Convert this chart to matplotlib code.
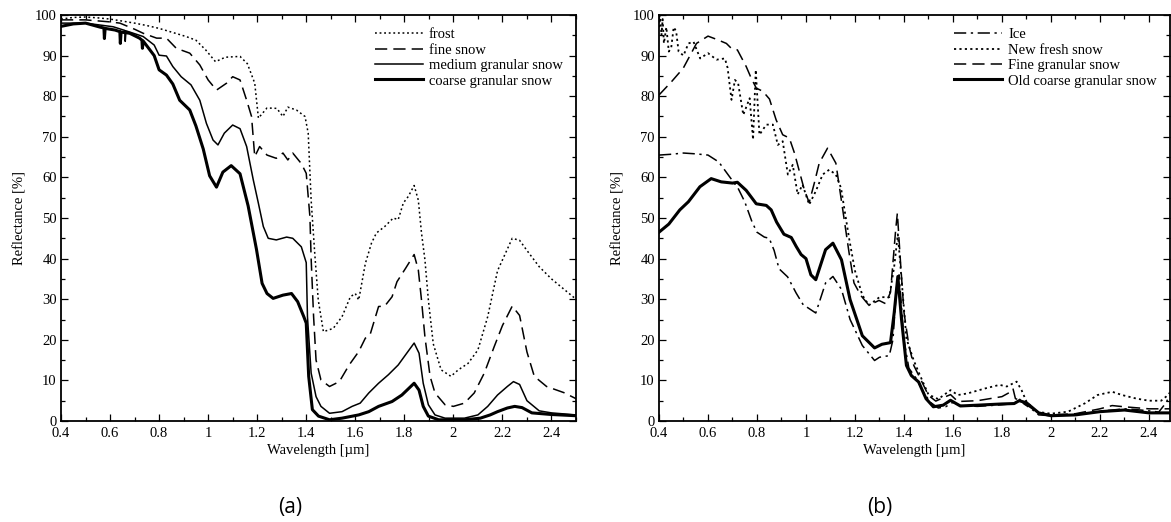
import matplotlib
matplotlib.use("Agg")
import matplotlib.pyplot as plt
from matplotlib.ticker import MultipleLocator

# ---------------- data: panel (a) ----------------
frost_x = [0.40, 0.45, 0.50, 0.55, 0.60, 0.65, 0.70, 0.75, 0.80, 0.85, 0.91, 0.95, 0.99, 1.03, 1.07, 1.13, 1.16,
           1.19, 1.205, 1.24, 1.28, 1.305, 1.325, 1.36, 1.395, 1.408, 1.42, 1.435, 1.449, 1.47, 1.51, 1.546, 1.58,
           1.60, 1.614, 1.641, 1.666, 1.686, 1.72, 1.755, 1.775, 1.796, 1.816, 1.84, 1.857, 1.87, 1.884, 1.898,
           1.918, 1.95, 1.99, 2.02, 2.06, 2.10, 2.14, 2.18, 2.21, 2.24, 2.27, 2.30, 2.35, 2.40, 2.45, 2.50]
frost_y = [99.0, 99.4, 99.5, 99.3, 99.0, 98.5, 98.0, 97.4, 96.7, 95.8, 94.7, 93.8, 91.4, 88.5, 89.6, 89.8, 88.0,
           83.2, 74.6, 77.1, 77.0, 75.0, 77.3, 76.6, 75.0, 70.9, 54.4, 41.0, 29.8, 22.0, 22.8, 25.7, 30.6,
           31.4, 29.8, 38.8, 43.8, 46.3, 47.9, 50.0, 49.6, 53.7, 55.3, 58.0, 54.4, 46.3, 39.7, 29.8,
           19.0, 12.6, 11.0, 12.6, 14.2, 17.5, 25.7, 37.0, 41.0, 45.0, 44.5, 42.0, 38.0, 35.0, 32.5, 30.0]

fine_x = [0.40, 0.50, 0.60, 0.64, 0.70, 0.735, 0.79, 0.83, 0.87, 0.925, 0.966, 1.00, 1.034, 1.075, 1.10, 1.13,
          1.157, 1.177, 1.19, 1.21, 1.24, 1.278, 1.305, 1.325, 1.345, 1.38, 1.40, 1.415, 1.42, 1.43, 1.44, 1.46,
          1.495, 1.535, 1.575, 1.614, 1.641, 1.66, 1.695, 1.72, 1.75, 1.77, 1.805, 1.84, 1.857, 1.87, 1.884,
          1.905, 1.925, 1.966, 2.00, 2.045, 2.085, 2.126, 2.167, 2.20, 2.24, 2.27, 2.30, 2.33, 2.38, 2.45, 2.50]
fine_y = [98.8, 98.8, 98.3, 98.0, 96.5, 95.5, 94.3, 94.3, 91.8, 90.6, 87.7, 84.0, 81.5, 83.2, 84.8, 84.0,
          79.0, 75.0, 65.1, 67.6, 65.5, 64.7, 66.0, 64.3, 66.0, 63.4, 61.0, 50.3, 40.0, 25.7, 15.0, 10.1,
          8.5, 9.7, 13.8, 17.1, 20.4, 21.2, 28.2, 28.3, 30.6, 34.3, 37.6, 41.0, 37.2, 29.8, 20.7,
          11.0, 6.9, 4.0, 3.6, 4.4, 6.9, 11.8, 18.4, 23.5, 28.3, 26.0, 17.0, 11.0, 8.5, 7.0, 5.5]

medium_x = [0.40, 0.50, 0.55, 0.613, 0.66, 0.662, 0.665, 0.695, 0.735, 0.78, 0.80, 0.83, 0.856, 0.89, 0.93,
            0.966, 0.993, 1.02, 1.04, 1.066, 1.10, 1.13, 1.157, 1.184, 1.205, 1.225, 1.245, 1.278, 1.32, 1.345,
            1.38, 1.40, 1.405, 1.42, 1.44, 1.46, 1.495, 1.546, 1.587, 1.62, 1.655, 1.695, 1.735, 1.775, 1.805,
            1.84, 1.86, 1.877, 1.898, 1.925, 1.966, 2.045, 2.10, 2.14, 2.18, 2.22, 2.245, 2.27, 2.30, 2.35,
            2.40, 2.50]
medium_y = [98.0, 98.0, 97.6, 97.1, 96.2, 93.5, 96.1, 95.5, 94.7, 92.6, 90.1, 89.9, 87.3, 84.8, 82.8,
            79.0, 73.3, 69.2, 68.0, 70.9, 72.9, 72.0, 67.6, 59.4, 53.6, 47.9, 45.0, 44.6, 45.3, 45.0,
            42.9, 39.0, 25.7, 11.8, 6.0, 3.6, 1.9, 2.3, 3.6, 4.4, 6.9, 9.3, 11.4, 13.8, 16.3,
            19.2, 16.7, 9.3, 4.0, 1.5, 0.7, 0.7, 1.5, 3.6, 6.4, 8.5, 9.7, 9.0, 5.0, 2.5,
            2.0, 1.5]

coarse_x = [0.40, 0.45, 0.50, 0.56, 0.575, 0.577, 0.58, 0.62, 0.64, 0.642, 0.645, 0.68, 0.72, 0.73, 0.732, 0.735,
            0.78, 0.80, 0.83, 0.856, 0.884, 0.925, 0.95, 0.98, 1.006, 1.034, 1.06, 1.094, 1.13, 1.163, 1.197,
            1.22, 1.24, 1.265, 1.305, 1.34, 1.365, 1.39, 1.40, 1.41, 1.425, 1.45, 1.495, 1.546, 1.614, 1.655,
            1.695, 1.75, 1.79, 1.84, 1.86, 1.877, 1.898, 1.94, 2.045, 2.11, 2.15, 2.18, 2.22, 2.25, 2.28, 2.32,
            2.40, 2.50]
coarse_y = [97.2, 97.8, 98.0, 97.0, 96.8, 94.2, 96.7, 96.3, 95.9, 93.0, 95.8, 95.5, 94.3, 93.8, 91.8, 93.6,
            90.0, 86.5, 85.2, 83.0, 79.0, 76.6, 72.7, 67.0, 60.4, 57.6, 61.3, 62.9, 60.9, 53.0, 42.3,
            33.9, 31.4, 30.2, 31.0, 31.4, 29.4, 25.7, 24.1, 11.0, 2.8, 1.2, 0.3, 0.7, 1.5, 2.3,
            3.6, 4.8, 6.4, 9.3, 7.6, 3.6, 1.2, 0.3, 0.3, 0.7, 1.5, 2.3, 3.2, 3.6, 3.3, 2.0,
            1.6, 1.3]

# ---------------- data: panel (b) ----------------
ice_x = [0.40, 0.45, 0.50, 0.55, 0.60, 0.644, 0.684, 0.723, 0.75, 0.78, 0.80, 0.83, 0.85, 0.87, 0.89, 0.925,
         0.96, 0.99, 1.00, 1.04, 1.08, 1.11, 1.145, 1.18, 1.23, 1.28, 1.30, 1.34, 1.355, 1.37, 1.38, 1.39, 1.40,
         1.42, 1.45, 1.48, 1.51, 1.54, 1.57, 1.60, 1.63, 1.70, 1.80, 1.85, 1.87, 1.89, 1.92, 1.95, 2.00, 2.10,
         2.20, 2.30, 2.35, 2.40, 2.44, 2.47, 2.486]
ice_y = [65.5, 65.7, 66.0, 65.8, 65.5, 63.8, 60.5, 57.3, 54.0, 49.0, 46.5, 45.3, 45.0, 42.0, 37.5, 35.5,
         31.5, 28.5, 28.2, 26.6, 34.0, 35.6, 32.4, 25.0, 18.6, 14.9, 15.7, 16.1, 20.0, 33.0, 36.0, 28.0, 20.0,
         13.0, 10.5, 7.0, 4.5, 3.2, 3.5, 4.6, 3.8, 3.6, 4.0, 4.3, 5.5, 4.2, 3.0, 1.5, 1.3, 1.5,
         2.4, 3.0, 2.8, 2.5, 2.2, 4.5, 6.5]

fresh_x = [0.40, 0.405, 0.41, 0.415, 0.42, 0.43, 0.44, 0.45, 0.46, 0.47, 0.48, 0.50, 0.52, 0.541, 0.568, 0.60,
           0.635, 0.669, 0.68, 0.696, 0.71, 0.723, 0.744, 0.77, 0.784, 0.795, 0.81, 0.838, 0.865, 0.885, 0.905,
           0.926, 0.946, 0.966, 0.986, 1.013, 1.04, 1.068, 1.095, 1.122, 1.143, 1.176, 1.20, 1.23, 1.257, 1.30,
           1.34, 1.36, 1.375, 1.39, 1.41, 1.44, 1.46, 1.50, 1.54, 1.59, 1.62, 1.66, 1.73, 1.79, 1.82, 1.86,
           1.88, 1.90, 1.94, 2.00, 2.07, 2.14, 2.19, 2.25, 2.29, 2.35, 2.40, 2.45, 2.47, 2.486]
fresh_y = [97.0, 100.0, 95.0, 99.0, 93.0, 97.0, 91.0, 92.0, 97.0, 96.0, 91.0, 90.0, 93.0, 93.4, 89.3, 90.6,
           89.0, 89.3, 87.0, 79.1, 84.0, 83.2, 75.4, 79.5, 69.3, 86.5, 70.5, 73.0, 73.0, 68.0, 68.9,
           60.7, 63.1, 55.8, 58.2, 53.3, 56.6, 60.7, 61.9, 60.7, 57.4, 45.0, 37.0, 31.0, 28.5, 30.5,
           30.5, 38.0, 46.0, 35.0, 20.3, 14.9, 12.0, 6.5, 5.4, 7.6, 6.4, 6.8, 8.0, 8.9, 8.5, 9.7,
           7.6, 4.8, 2.3, 1.8, 2.3, 4.4, 6.4, 7.2, 6.4, 5.5, 5.0, 5.0, 6.0, 7.0]

fgran_x = [0.40, 0.45, 0.499, 0.553, 0.60, 0.635, 0.675, 0.695, 0.72, 0.756, 0.776, 0.797, 0.824, 0.851, 0.878,
           0.905, 0.932, 0.953, 0.973, 0.993, 1.013, 1.034, 1.054, 1.088, 1.122, 1.149, 1.176, 1.196, 1.224,
           1.257, 1.298, 1.325, 1.345, 1.366, 1.373, 1.386, 1.40, 1.42, 1.44, 1.467, 1.50, 1.53, 1.57, 1.59,
           1.62, 1.70, 1.75, 1.80, 1.83, 1.845, 1.855, 1.88, 1.90, 1.95, 2.00, 2.10, 2.20, 2.25, 2.30, 2.40, 2.486]
fgran_y = [80.3, 83.5, 86.9, 93.0, 94.8, 94.0, 93.0, 91.8, 91.4, 87.3, 84.5, 82.0, 81.2, 79.3, 74.2,
           70.5, 69.7, 66.0, 61.5, 57.0, 53.8, 58.6, 63.5, 67.2, 63.5, 52.5, 41.4, 34.0, 30.9,
           28.5, 29.7, 28.9, 31.7, 47.0, 51.2, 39.0, 26.8, 18.6, 13.7, 10.4, 6.3, 4.9, 6.0, 6.5,
           4.8, 5.0, 5.5, 6.0, 7.0, 8.0, 5.5, 5.0, 4.0, 2.0, 1.5, 1.8, 3.0, 3.8, 3.5, 3.0, 3.0]

old_x = [0.40, 0.44, 0.485, 0.52, 0.567, 0.613, 0.654, 0.70, 0.72, 0.756, 0.797, 0.838, 0.858, 0.88, 0.91, 0.94,
         0.96, 0.98, 1.00, 1.02, 1.04, 1.08, 1.11, 1.145, 1.18, 1.23, 1.28, 1.31, 1.345, 1.36, 1.375, 1.39,
         1.41, 1.43, 1.46, 1.49, 1.52, 1.56, 1.59, 1.63, 1.70, 1.80, 1.85, 1.87, 1.90, 1.95, 2.00, 2.10, 2.20,
         2.30, 2.40, 2.486]
old_y = [46.5, 48.5, 52.0, 54.0, 57.7, 59.7, 58.9, 58.6, 58.8, 56.8, 53.5, 53.1, 52.0, 49.0, 46.0, 45.2,
         43.0, 41.0, 40.0, 36.0, 34.8, 42.2, 43.8, 39.7, 29.9, 21.0, 18.0, 18.9, 19.3, 26.6, 35.6, 25.0,
         13.7, 11.2, 9.6, 5.5, 3.5, 3.9, 5.1, 3.7, 3.9, 4.2, 4.3, 5.0, 4.5, 2.0, 1.3, 1.5, 2.3,
         2.7, 2.0, 2.0]

labels_a = ["frost", "fine snow", "medium granular snow", "coarse granular snow"]
labels_b = ["Ice", "New fresh snow", "Fine granular snow", "Old coarse granular snow"]
yticks = list(range(0, 101, 10))
xticks = [0.4, 0.6, 0.8, 1.0, 1.2, 1.4, 1.6, 1.8, 2.0, 2.2, 2.4]
xticklabels = ["0.4", "0.6", "0.8", "1", "1.2", "1.4", "1.6", "1.8", "2", "2.2", "2.4"]

plt.rcParams['font.family'] = ['Liberation Serif', 'DejaVu Serif']

fig = plt.figure(figsize=(11.71, 5.22), dpi=100)
axA = fig.add_axes([61 / 1171, 101 / 522, 515 / 1171, 406 / 522])
axB = fig.add_axes([659 / 1171, 101 / 522, 511 / 1171, 406 / 522])

DOT = (0, (1.2, 1.8))
DASH = (0, (8, 4))
DASHDOT = (0, (8, 3, 1.5, 3))

axA.plot(frost_x, frost_y, color='black', lw=1.1, ls=DOT, label=labels_a[0])
axA.plot(fine_x, fine_y, color='black', lw=1.1, ls=DASH, label=labels_a[1])
axA.plot(medium_x, medium_y, color='black', lw=1.1, ls='-', label=labels_a[2])
axA.plot(coarse_x, coarse_y, color='black', lw=2.2, ls='-', label=labels_a[3])

axB.plot(ice_x, ice_y, color='black', lw=1.1, ls=DASHDOT, label=labels_b[0])
axB.plot(fresh_x, fresh_y, color='black', lw=1.3, ls=DOT, label=labels_b[1])
axB.plot(fgran_x, fgran_y, color='black', lw=1.1, ls=DASH, label=labels_b[2])
axB.plot(old_x, old_y, color='black', lw=2.2, ls='-', label=labels_b[3])

for ax, xmax in ((axA, 2.5), (axB, 2.486)):
    ax.set_xlim(0.4, xmax)
    ax.set_ylim(0, 100)
    ax.set_xticks(xticks)
    ax.set_xticklabels(xticklabels)
    ax.set_yticks(yticks)
    ax.xaxis.set_minor_locator(MultipleLocator(0.1))
    ax.yaxis.set_minor_locator(MultipleLocator(5))
    ax.tick_params(which='both', direction='in', top=True, right=True, labelsize=10.5, width=0.9)
    ax.tick_params(axis='x', pad=4)
    ax.tick_params(axis='y', pad=3)
    ax.tick_params(which='major', length=5)
    ax.tick_params(which='minor', length=3)
    for s in ax.spines.values():
        s.set_linewidth(1.3)
    ax.set_xlabel("Wavelength [µm]", fontsize=10.5, labelpad=3)
    ax.set_ylabel("Reflectance [%]", fontsize=10.5, labelpad=6)
    ax.legend(loc='upper right', frameon=False, fontsize=10.5, handlelength=3.3, handletextpad=0.4,
              labelspacing=0.15, borderaxespad=0.5)

fig.text(290 / 1171, 1 - 507 / 522, "(a)", ha='center', va='center', fontsize=15, family='Open Sans')
fig.text(880 / 1171, 1 - 507 / 522, "(b)", ha='center', va='center', fontsize=15, family='Open Sans')

fig.savefig("out.png", dpi=100)
